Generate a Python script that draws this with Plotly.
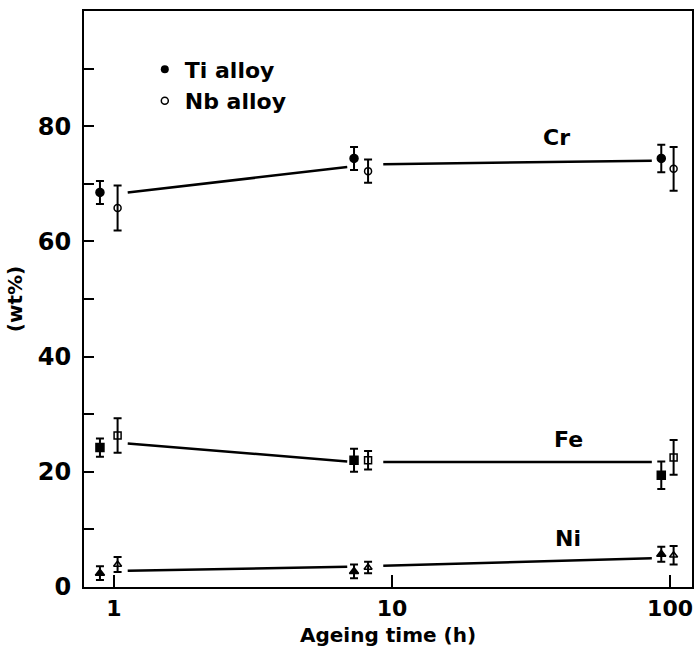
import plotly.graph_objects as go
import math

# ---------------- data ----------------
times_ti = [0.89, 7.3, 93]
times_nb = [1.03, 8.2, 103]

cr_ti = [68.5, 74.4, 74.4]
cr_ti_err = [2.0, 2.0, 2.4]
cr_nb = [65.8, 72.2, 72.6]
cr_nb_err = [3.9, 2.0, 3.8]

fe_ti = [24.2, 22.0, 19.4]
fe_ti_err = [1.6, 2.0, 2.4]
fe_nb = [26.3, 22.0, 22.5]
fe_nb_err = [3.0, 1.6, 3.0]

ni_ti = [2.4, 2.7, 5.7]
ni_ti_err = [1.2, 1.2, 1.3]
ni_nb = [3.9, 3.4, 5.5]
ni_nb_err = [1.3, 1.0, 1.6]

trend_t = [1.12, 6.9, None, 9.3, 86]
cr_trend = [68.5, 72.9, None, 73.4, 74.0]
fe_trend = [24.9, 21.8, None, 21.7, 21.7]
ni_trend = [2.8, 3.5, None, 3.7, 5.0]

element_labels = ["Cr", "Fe", "Ni"]
label_t = [39, 43, 43]
label_y = [78.1, 25.6, 8.5]

x_tickvals = [1, 10, 100]
x_ticktext = ["1", "10", "100"]
y_tickvals = [0, 10, 20, 30, 40, 50, 60, 70, 80, 90]
y_ticktext = ["0", "", "20", "", "40", "", "60", "", "80", ""]

x_title = "Ageing time (h)"
y_title = "(wt%)"

# ---------------- figure ----------------
FONT = "DejaVu Sans"
fig = go.Figure()

for tr in [cr_trend, fe_trend, ni_trend]:
    fig.add_trace(go.Scatter(x=trend_t, y=tr, mode="lines",
                             line=dict(color="black", width=2.5),
                             showlegend=False, hoverinfo="skip", connectgaps=False))

series = [
    (cr_ti, cr_ti_err, "circle", True),
    (cr_nb, cr_nb_err, "circle-open", False),
    (fe_ti, fe_ti_err, "square", True),
    (fe_nb, fe_nb_err, "square-open", False),
    (ni_ti, ni_ti_err, "triangle-up", True),
    (ni_nb, ni_nb_err, "triangle-up-open", False),
]
for vals, errs, sym, ti in series:
    fig.add_trace(go.Scatter(
        x=times_ti if ti else times_nb, y=vals, mode="markers",
        marker=dict(symbol=sym, size=8 if ti else 7, color="black",
                    line=dict(color="black", width=1.5)),
        error_y=dict(type="data", array=errs, visible=True, color="black",
                     thickness=2, width=4),
        showlegend=False))

# legend entries
fig.add_trace(go.Scatter(x=[None], y=[None], mode="markers", name="Ti alloy",
                         marker=dict(symbol="circle", size=8, color="black")))
fig.add_trace(go.Scatter(x=[None], y=[None], mode="markers", name="Nb alloy",
                         marker=dict(symbol="circle-open", size=7, color="black",
                                     line=dict(width=1.5))))

for lab, t, yv in zip(element_labels, label_t, label_y):
    fig.add_annotation(x=math.log10(t), y=yv, text=lab, showarrow=False,
                       font=dict(family=FONT, size=22, color="black", weight="bold"))

# x-axis title as an annotation for exact placement
fig.add_annotation(x=0.5, y=-0.106, xref="paper", yref="paper",
                   xanchor="center", yanchor="bottom", text=x_title, showarrow=False,
                   borderpad=0,
                   font=dict(family=FONT, size=20, color="black", weight="bold"))

fig.update_layout(
    width=697, height=648,
    margin=dict(l=84, r=5, t=11, b=61, autoexpand=False),
    paper_bgcolor="white", plot_bgcolor="white",
    showlegend=True,
    legend=dict(x=0.10, y=0.935, xanchor="left", yanchor="top",
                bgcolor="rgba(0,0,0,0)",
                font=dict(family=FONT, size=22, color="black", weight="bold"),
                itemwidth=30, tracegroupgap=2),
)
fig.update_xaxes(type="log", range=[-0.108, 2.079], automargin=False,
                 tickvals=x_tickvals, ticktext=x_ticktext,
                 ticks="inside", ticklen=12, tickwidth=2, tickcolor="black",
                 showline=True, linewidth=2, linecolor="black", mirror=True,
                 showgrid=False, zeroline=False,
                 tickfont=dict(family=FONT, size=22, color="black", weight="bold"),
                 ticklabelstandoff=1)
fig.update_yaxes(range=[0, 100], automargin=False,
                 tickvals=y_tickvals, ticktext=y_ticktext,
                 ticks="inside", ticklen=10, tickwidth=2, tickcolor="black",
                 showline=True, linewidth=2, linecolor="black", mirror=True,
                 showgrid=False, zeroline=False,
                 tickfont=dict(family=FONT, size=24, color="black", weight="bold"),
                 ticklabelstandoff=6,
                 title=dict(text=y_title, standoff=10,
                            font=dict(family=FONT, size=20, color="black", weight="bold")))

fig.write_html("out.html")
